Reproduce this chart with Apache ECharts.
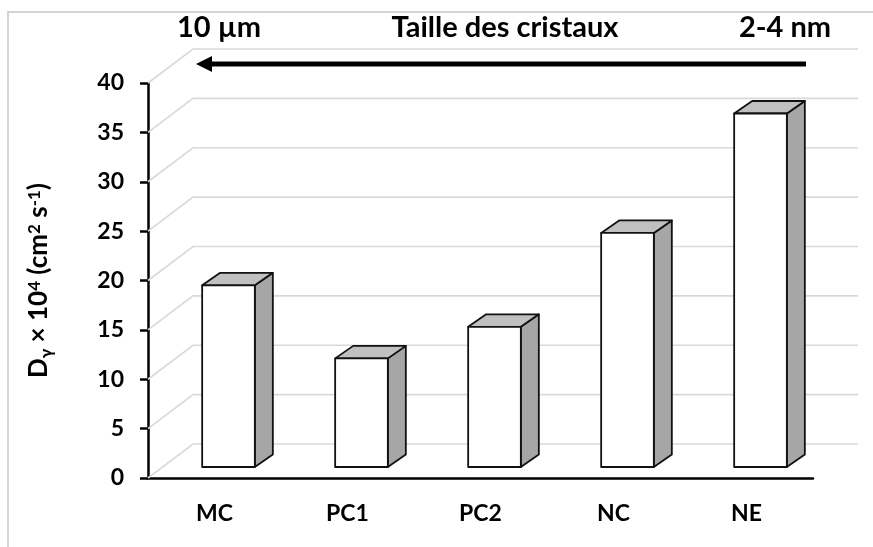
<!DOCTYPE html>
<html>
<head>
<meta charset="utf-8">
<script src="https://cdn.jsdelivr.net/npm/echarts@6/dist/echarts.min.js"></script>
<style>
  html, body { margin: 0; padding: 0; background: #fff; }
  #chart { width: 873px; height: 547px; }
</style>
</head>
<body>
<div id="chart"></div>
<script>
// Samples and their diffusion coefficients (x 10^4, cm^2 s^-1)
const categories = ['MC', 'PC1', 'PC2', 'NC', 'NE'];
const diffusion = [18.4, 11.0, 14.2, 23.7, 35.8];
// Value-axis ticks, also used for the back-wall grid lines
const yTicks = [0, 5, 10, 15, 20, 25, 30, 35, 40];

const FONT = 'Lato';
// Pseudo-3D depth of the wall and of the columns (pixels)
const WALL_DX = 45, WALL_DY = 34;
const BAR_SHIFT_X = 14, BAR_SHIFT_Y = 11;
const BAR_DX = 18, BAR_DY = 12.5;
const BAR_RATIO = 0.396;

const chart = echarts.init(document.getElementById('chart'), null, { renderer: 'canvas' });

function renderWall(params, api) {
  const cs = params.coordSys;
  const y = api.coord([0, api.value(1)])[1];
  const x0 = cs.x;
  const x1 = cs.x + cs.width;
  return {
    type: 'polyline',
    shape: { points: [[x0, y], [x0 + WALL_DX, y - WALL_DY], [x1 + WALL_DX, y - WALL_DY]] },
    style: { stroke: '#d9d9d9', lineWidth: 1.6, fill: null },
    silent: true
  };
}

function renderBar(params, api) {
  const idx = api.value(0);
  const base = api.coord([idx, 0]);
  const top = api.coord([idx, api.value(1)]);
  const band = api.size([1, 0])[0];
  const w = band * BAR_RATIO;
  const xl = base[0] - w / 2 + BAR_SHIFT_X;
  const xr = xl + w;
  const yb = base[1] - BAR_SHIFT_Y;
  const yt = top[1] - BAR_SHIFT_Y;
  const stroke = { stroke: '#111', lineWidth: 1.8, lineJoin: 'round' };
  return {
    type: 'group',
    children: [
      {
        type: 'polygon',
        shape: { points: [[xr, yb], [xr + BAR_DX, yb - BAR_DY], [xr + BAR_DX, yt - BAR_DY], [xr, yt]] },
        style: Object.assign({ fill: '#a6a6a6' }, stroke)
      },
      {
        type: 'polygon',
        shape: { points: [[xl, yt], [xl + BAR_DX, yt - BAR_DY], [xr + BAR_DX, yt - BAR_DY], [xr, yt]] },
        style: Object.assign({ fill: '#c0c0c0' }, stroke)
      },
      {
        type: 'rect',
        shape: { x: xl, y: yt, width: w, height: yb - yt },
        style: Object.assign({ fill: '#ffffff' }, stroke)
      }
    ]
  };
}

const option = {
  backgroundColor: '#ffffff',
  animation: false,
  grid: { left: 148, right: 60, top: 83, bottom: 69, containLabel: false },
  xAxis: {
    type: 'category',
    data: categories,
    axisLine: { show: true, lineStyle: { color: '#000', width: 2.5 } },
    axisTick: { show: false },
    axisLabel: { margin: 24, color: '#000', fontFamily: FONT, fontWeight: 'bold', fontSize: 23 },
    splitLine: { show: false }
  },
  yAxis: {
    type: 'value',
    min: 0,
    max: 40,
    interval: 5,
    axisLine: { show: true, lineStyle: { color: '#000', width: 2.5 } },
    axisTick: { show: true, inside: false, length: 8, lineStyle: { color: '#000', width: 2.5 } },
    axisLabel: { margin: 24, color: '#000', fontFamily: FONT, fontWeight: 'bold', fontSize: 23 },
    splitLine: { show: false },
    name: '{b|D}{sub|γ}{b| × 10}{sup|4}{b| (cm}{sup|2}{b| s}{sup|-1}{b|)}',
    nameLocation: 'middle',
    nameRotate: 90,
    nameGap: 93,
    nameTextStyle: {
      color: '#000', fontFamily: FONT, fontWeight: 'bold', fontSize: 26,
      rich: {
        b: { color: '#000', fontFamily: FONT, fontWeight: 'bold', fontSize: 26, lineHeight: 32, verticalAlign: 'middle' },
        sup: { color: '#000', fontFamily: FONT, fontWeight: 'bold', fontSize: 17, lineHeight: 32, verticalAlign: 'top', padding: [3, 0, 0, 0] },
        sub: { color: '#000', fontFamily: FONT, fontWeight: 'bold', fontSize: 17, lineHeight: 32, verticalAlign: 'bottom' }
      }
    }
  },
  graphic: [
    {
      type: 'rect', silent: true, z: -10,
      shape: { x: 8, y: 12, width: 900, height: 600 },
      style: { fill: null, stroke: '#d4d4d4', lineWidth: 2 }
    },
    {
      type: 'text', x: 177, y: 28,
      style: { text: '10 µm', font: 'bold 29px ' + FONT, fill: '#000', textAlign: 'left', textVerticalAlign: 'middle' }
    },
    {
      type: 'text', x: 505, y: 28,
      style: { text: 'Taille des cristaux', font: 'bold 29px ' + FONT, fill: '#000', textAlign: 'center', textVerticalAlign: 'middle' }
    },
    {
      type: 'text', x: 785, y: 28,
      style: { text: '2-4 nm', font: 'bold 29px ' + FONT, fill: '#000', textAlign: 'center', textVerticalAlign: 'middle' }
    },
    {
      type: 'line', silent: true,
      shape: { x1: 806, y1: 64, x2: 208, y2: 64 },
      style: { stroke: '#000', lineWidth: 5 }
    },
    {
      type: 'polygon', silent: true,
      shape: { points: [[196, 64], [212, 56], [212, 72]] },
      style: { fill: '#000' }
    }
  ],
  series: [
    {
      type: 'custom',
      name: 'wall',
      coordinateSystem: 'cartesian2d',
      clip: false,
      z: 1,
      silent: true,
      renderItem: renderWall,
      data: yTicks.map(v => [0, v])
    },
    {
      type: 'custom',
      name: 'Dγ',
      coordinateSystem: 'cartesian2d',
      clip: false,
      z: 5,
      renderItem: renderBar,
      data: diffusion.map((v, i) => [i, v])
    }
  ]
};

chart.setOption(option);
</script>
</body>
</html>
